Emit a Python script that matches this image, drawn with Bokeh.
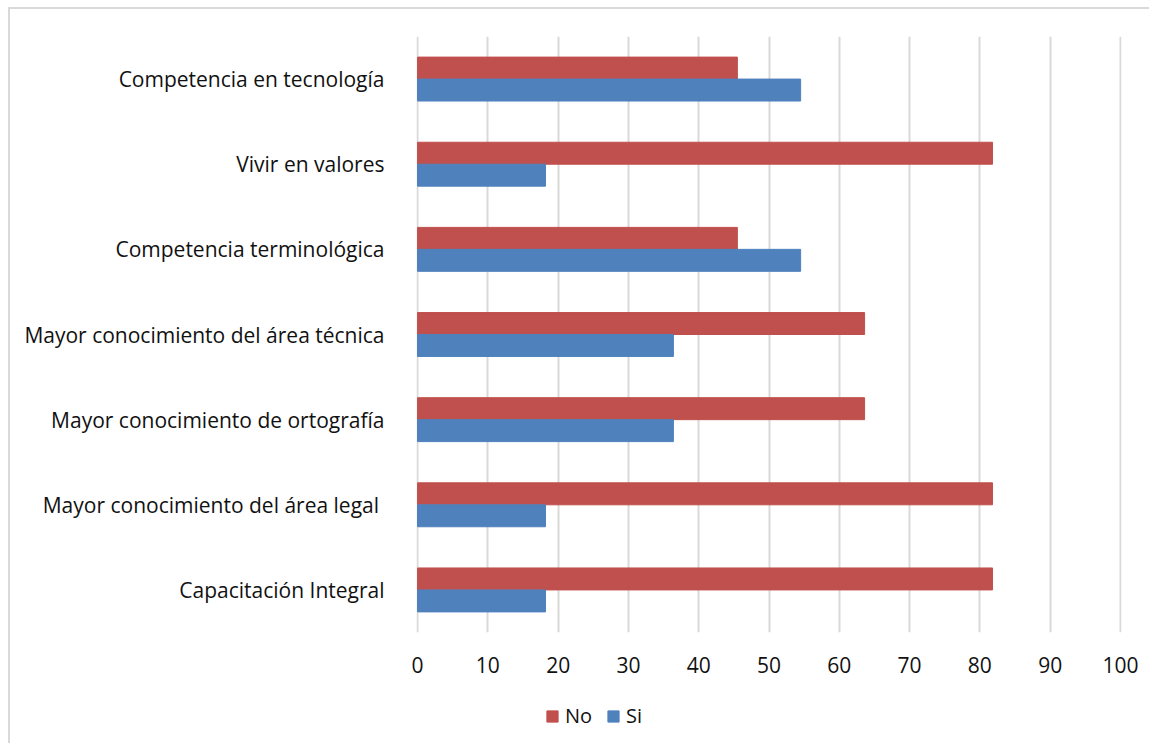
from bokeh.plotting import figure
from bokeh.layouts import column
from bokeh.models import FactorRange, Range1d, Legend, LegendItem, ColumnDataSource, FixedTicker
from bokeh.transform import dodge
from bokeh.embed import file_html
from bokeh.resources import INLINE

categories = [
    "Capacitación Integral",
    "Mayor conocimiento del área  legal",
    "Mayor conocimiento de ortografía",
    "Mayor conocimiento del área técnica",
    "Competencia terminológica",
    "Vivir en valores",
    "Competencia en tecnología",
]
no_values = [81.8, 81.8, 63.6, 63.6, 45.5, 81.8, 45.5]
si_values = [18.2, 18.2, 36.4, 36.4, 54.5, 18.2, 54.5]
x_ticks = [0, 10, 20, 30, 40, 50, 60, 70, 80, 90, 100]
series_names = ["No", "Si"]

FONT = "Open Sans"
RED = "#C0504D"
BLUE = "#4F81BD"
TXT = "#111111"
BORDER = "#d9d9d9"

src = ColumnDataSource(dict(cat=categories, no=no_values, si=si_values))

p = figure(
    width=1149, height=680,
    y_range=FactorRange(factors=categories),
    x_range=Range1d(-0.15, 100.15),
    output_backend="svg", toolbar_location=None,
    min_border_left=416, min_border_right=28, min_border_top=36, min_border_bottom=48,
)
p.outline_line_color = None
p.border_fill_alpha = 0
p.background_fill_alpha = 0
p.styles = {
    "background": (f"linear-gradient({BORDER},{BORDER}) 8px 7px / 2px calc(100% - 7px) no-repeat, "
                   f"linear-gradient({BORDER},{BORDER}) 8px 7px / calc(100% - 8px) 2px no-repeat, #ffffff"),
}

p.hbar(y=dodge("cat", 0.129, range=p.y_range), right="no", left=0, height=0.258,
       source=src, fill_color=RED, line_color=RED)
p.hbar(y=dodge("cat", -0.129, range=p.y_range), right="si", left=0, height=0.258,
       source=src, fill_color=BLUE, line_color=BLUE)

p.xaxis.ticker = FixedTicker(ticks=x_ticks)
p.xgrid.ticker = FixedTicker(ticks=x_ticks)
p.xgrid.grid_line_color = "#d9d9d9"
p.xgrid.grid_line_width = 2
p.ygrid.grid_line_color = None

for ax in (p.xaxis[0], p.yaxis[0]):
    ax.axis_line_color = None
    ax.major_tick_line_color = None
    ax.minor_tick_line_color = None
    ax.major_label_text_font = FONT
    ax.major_label_text_font_size = "21px"
    ax.major_label_text_color = TXT

p.xaxis.major_label_standoff = 18
p.yaxis.major_label_standoff = 26

# legend strip below the chart
lf = figure(
    width=1149, height=63, x_range=Range1d(0, 1), y_range=Range1d(0, 1),
    output_backend="svg", toolbar_location=None,
    min_border_left=0, min_border_right=0, min_border_top=0, min_border_bottom=0,
)
lf.axis.visible = False
lf.grid.visible = False
lf.outline_line_color = None
lf.border_fill_alpha = 0
lf.background_fill_alpha = 0
lf.styles = {
    "background": f"linear-gradient({BORDER},{BORDER}) 8px 0px / 2px 100% no-repeat, #ffffff",
}
lsrc = ColumnDataSource(dict(y=[-5.0], v=[0.0]))
lr_no = lf.hbar(y="y", right="v", left="v", height=0.1, source=lsrc, fill_color=RED, line_color=RED)
lr_si = lf.hbar(y="y", right="v", left="v", height=0.1, source=lsrc, fill_color=BLUE, line_color=BLUE)

legend = Legend(
    items=[LegendItem(label=series_names[0], renderers=[lr_no]),
           LegendItem(label=series_names[1], renderers=[lr_si])],
    orientation="horizontal", location=(129, 14),
    label_text_font=FONT, label_text_font_size="20px", label_text_color=TXT,
    glyph_width=14, glyph_height=14, spacing=14, label_standoff=6,
    border_line_color=None, background_fill_alpha=0, padding=0, margin=0,
)
lf.add_layout(legend, "center")

layout = column(p, lf, spacing=0)
open("out.html", "w").write(file_html(layout, INLINE))
